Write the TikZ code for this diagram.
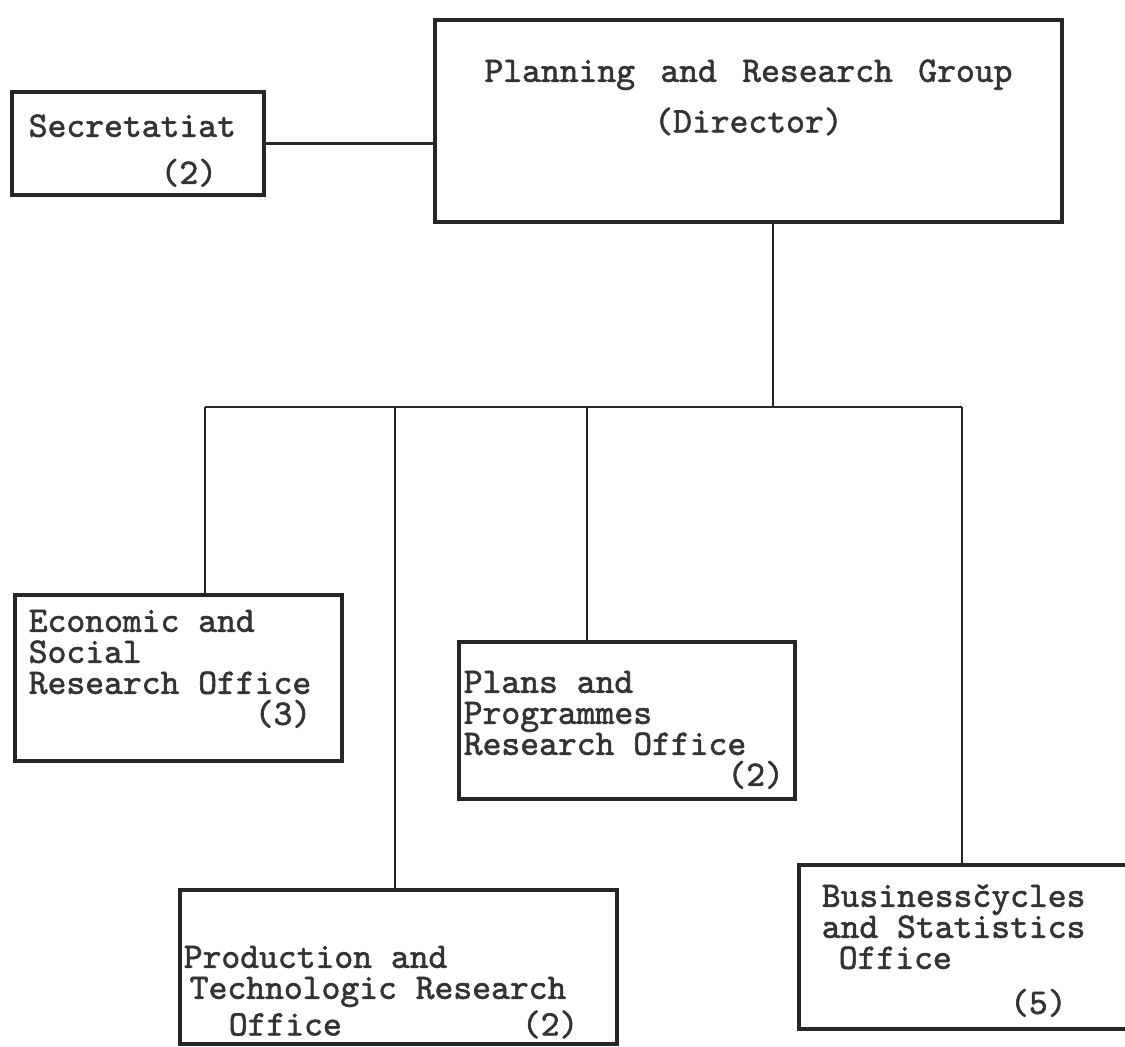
\documentclass[tikz,border=0pt]{standalone}
\usepackage{fontspec}
\newfontfamily\typewriter{lmmono10-regular}[Extension=.otf, FakeBold=1.6]
\usepackage{tikz}

\begin{document}
\begin{tikzpicture}[x=0.01cm, y=-0.01cm,
		office/.style={draw=black!85, line width=1pt, inner ysep=0pt, align=left, anchor=north west,
			font=\typewriter\fontsize{10.2}{8.82}\selectfont, text=black!80,
			execute at begin node={\spaceskip=0pt\xspaceskip=0pt\relax}},
		link/.style={draw=black!85, line width=0.8pt}]
	\useasboundingbox (0,0) rectangle (1125,1046);
	\node[office, inner xsep=0.17cm, text width=2.18cm, text height=0.45cm, text depth=0.58cm] (sec) at (10,90)
		{Secretatiat\\[0.16cm]~~~~~~~(2)};
	\node[office, align=center, inner xsep=0pt, text width=6.27cm, text height=0.62cm, text depth=1.40cm] (plan) at (433,18)
		{Planning and Research Group\hspace*{0.14cm}\\[0.14cm](Director)};
	\node[office, inner xsep=0.14cm, text width=2.99cm, text height=0.37cm, text depth=1.29cm] (econ) at (13,593)
		{Economic and\\Social\\Research Office\\~~~~~~~~~~~~(3)};
	\node[office, inner xsep=0.05cm, text width=3.26cm, text height=0.51cm, text depth=1.06cm] (plans) at (457,640)
		{Plans and\\Programmes\\Research Office\\~~~~~~~~~~~~~~(2)};
	\node[office, inner xsep=0.04cm, text width=4.29cm, text height=0.78cm, text depth=0.76cm] (prod) at (178,888)
		{Production and\\\hspace*{0.06cm}Technologic Research\\\hspace*{0.45cm}Office\hspace*{1.80cm}(2)};
	\node[office, inner xsep=0.23cm, text width=2.92cm, text height=0.42cm, text depth=1.22cm] (bus) at (797,863)
		{Business\v{c}ycles\\and Statistics\\\hspace*{0.17cm}Office\\[0.14cm]~~~~~~~~~~(5)};

	\draw[link] (sec.east) -- (sec.east -| plan.west);
	\coordinate (hub) at (773,407);
	\draw[link] (plan.south -| hub) -- (hub);
	\coordinate (d-econ) at (205,407);
	\coordinate (d-prod) at (395,407);
	\coordinate (d-plans) at (587,407);
	\coordinate (d-bus) at (962,407);
	\draw[link] (d-econ) -- (d-bus);
	\foreach \n in {econ, prod, plans, bus}
		\draw[link] (d-\n) -- (d-\n |- \n.north);
\end{tikzpicture}
\end{document}
